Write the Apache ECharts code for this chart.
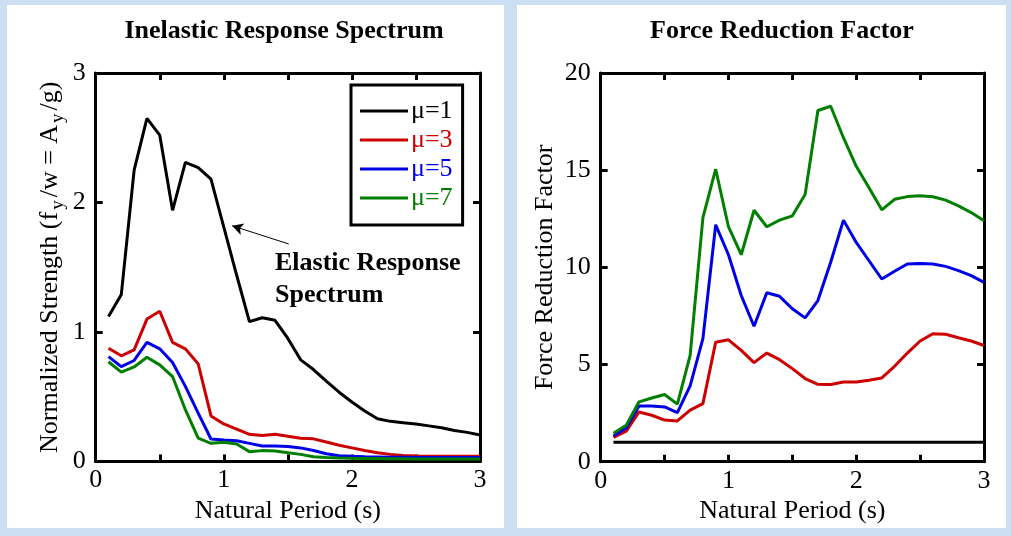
<!DOCTYPE html>
<html>
<head>
<meta charset="utf-8">
<script src="https://cdn.jsdelivr.net/npm/echarts@6/dist/echarts.min.js"></script>
<style>
html,body{margin:0;padding:0;background:#cbdef2;}
#chart{width:1011px;height:536px;}
</style>
</head>
<body>
<div id="chart"></div>
<script>
// ---------------- data ----------------
const periods = [0.1,0.2,0.3,0.4,0.5,0.6,0.7,0.8,0.9,1.0,1.1,1.2,1.3,1.4,1.5,1.6,1.7,1.8,1.9,2.0,2.1,2.2,2.3,2.4,2.5,2.6,2.7,2.8,2.9,3.0];
const seriesNames = ['μ=1','μ=3','μ=5','μ=7'];

// Normalized strength fy/w = Ay/g
const strengthMu1 = [1.12,1.29,2.25,2.65,2.52,1.94,2.31,2.27,2.18,1.81,1.44,1.08,1.11,1.09,0.95,0.785,0.71,0.62,0.535,0.46,0.39,0.33,0.31,0.30,0.29,0.275,0.26,0.24,0.225,0.205];
const strengthMu3 = [0.875,0.816,0.862,1.10,1.16,0.92,0.87,0.754,0.352,0.29,0.25,0.21,0.20,0.21,0.195,0.18,0.175,0.15,0.125,0.105,0.085,0.068,0.055,0.047,0.043,0.04,0.04,0.04,0.04,0.04];
const strengthMu5 = [0.81,0.733,0.78,0.92,0.87,0.764,0.58,0.373,0.174,0.166,0.16,0.14,0.12,0.12,0.115,0.105,0.085,0.06,0.045,0.04,0.037,0.035,0.033,0.032,0.031,0.03,0.03,0.03,0.03,0.03];
const strengthMu7 = [0.77,0.69,0.73,0.805,0.746,0.656,0.40,0.18,0.14,0.148,0.135,0.076,0.084,0.081,0.068,0.055,0.037,0.03,0.027,0.025,0.024,0.023,0.022,0.021,0.02,0.02,0.02,0.02,0.02,0.02];

// Force reduction factor
const reductionMu1 = [1,1,1,1,1,1,1,1,1,1,1,1,1,1,1,1,1,1,1,1,1,1,1,1,1,1,1,1,1,1];
const reductionMu3 = [1.25,1.57,2.56,2.39,2.14,2.10,2.65,2.99,6.15,6.27,5.73,5.10,5.59,5.25,4.79,4.28,3.98,3.97,4.10,4.10,4.19,4.31,4.91,5.59,6.21,6.58,6.56,6.38,6.21,5.98];
const reductionMu5 = [1.32,1.74,2.87,2.87,2.82,2.53,3.90,6.33,12.19,10.65,8.55,6.97,8.69,8.51,7.87,7.40,8.29,10.26,12.43,11.28,10.34,9.40,9.80,10.17,10.2,10.17,10.05,9.83,9.57,9.23];
const reductionMu7 = [1.46,1.88,3.08,3.28,3.46,2.96,5.47,12.56,15.05,12.09,10.65,12.94,12.09,12.43,12.65,13.75,18.07,18.29,16.67,15.2,14.1,12.96,13.5,13.64,13.68,13.63,13.46,13.16,12.82,12.4];

const xTicks = [0,1,2,3];
const strengthTicks = [0,1,2,3];
const reductionTicks = [0,5,10,15,20];

// ---------------- styling ----------------
const colors = ['#000000','#cc0000','#0000e6','#007f00'];
const FONT = "'Liberation Serif','Times New Roman',serif";
const pair = arr => periods.map((p,i)=>[p, arr[i]]);

function mainX(gi){
  return {type:'value', gridIndex:gi, min:0, max:3, interval:0.5, position:'bottom',
    axisLine:{show:true,onZero:false,lineStyle:{color:'#000',width:3}},
    axisTick:{show:true,inside:true,length:7,lineStyle:{color:'#000',width:3}},
    splitLine:{show:false},
    axisLabel:{show:true,margin:6,color:'#000',fontFamily:FONT,fontSize:26,
      formatter:v=> xTicks.indexOf(v)>=0 ? String(v) : ''},
    name:'Natural Period (s)', nameLocation:'middle', nameGap:30,
    nameTextStyle:{color:'#000',fontFamily:FONT,fontSize:26}};
}
function mirrorX(gi){
  return {type:'value', gridIndex:gi, min:0, max:3, interval:0.5, position:'top',
    axisLine:{show:true,onZero:false,lineStyle:{color:'#000',width:3}},
    axisTick:{show:true,inside:true,length:7,lineStyle:{color:'#000',width:3}},
    splitLine:{show:false}, axisLabel:{show:false}};
}
function mainY(gi,max,interval,ticks,name,gap,rich){
  return {type:'value', gridIndex:gi, min:0, max:max, interval:interval, position:'left',
    axisLine:{show:true,onZero:false,lineStyle:{color:'#000',width:3}},
    axisTick:{show:true,inside:true,length:7,lineStyle:{color:'#000',width:3}},
    splitLine:{show:false},
    axisLabel:{show:true,margin:10,color:'#000',fontFamily:FONT,fontSize:26,
      formatter:v=> ticks.indexOf(v)>=0 ? String(v) : ''},
    name:name, nameLocation:'middle', nameGap:gap, nameRotate:90,
    nameTextStyle:{color:'#000',fontFamily:FONT,fontSize:26,lineHeight:26,rich:rich||{}}};
}
function mirrorY(gi,max,interval){
  return {type:'value', gridIndex:gi, min:0, max:max, interval:interval, position:'right',
    axisLine:{show:true,onZero:false,lineStyle:{color:'#000',width:3}},
    axisTick:{show:true,inside:true,length:7,lineStyle:{color:'#000',width:3}},
    splitLine:{show:false}, axisLabel:{show:false}};
}

const subRich = {
  s:{fontFamily:FONT,fontSize:19,lineHeight:19,padding:[17,3,0,2],color:'#000'},
  n:{fontFamily:FONT,fontSize:26,lineHeight:26,color:'#000'}
};

const leftSeries = [strengthMu1,strengthMu3,strengthMu5,strengthMu7].map((arr,i)=>({
  name:seriesNames[i], type:'line', xAxisIndex:0, yAxisIndex:0,
  data:pair(arr), showSymbol:false, symbol:'none',
  lineStyle:{color:colors[i],width:3}, itemStyle:{color:colors[i]},
  z:2+i, animation:false
}));
leftSeries[0].markLine = {
  silent:true, animation:false, symbol:['none','arrow'], symbolSize:[9,11],
  label:{show:false},
  lineStyle:{color:'#000',width:1,type:'solid'},
  data:[[{coord:[1.507,1.68]},{coord:[1.065,1.82]}]]
};

const rightSeries = [reductionMu1,reductionMu3,reductionMu5,reductionMu7].map((arr,i)=>({
  name:'R '+seriesNames[i], type:'line', xAxisIndex:2, yAxisIndex:2,
  data:pair(arr), showSymbol:false, symbol:'none',
  lineStyle:{color:colors[i],width:3}, itemStyle:{color:colors[i]},
  z:2+i, animation:false
}));

const option = {
  backgroundColor:'#cbdef2',
  animation:false,
  graphic:[
    {type:'rect', shape:{x:7,y:5,width:497,height:523}, style:{fill:'#ffffff'}, z:-10},
    {type:'rect', shape:{x:517,y:5,width:489,height:523}, style:{fill:'#ffffff'}, z:-10},
    {type:'text', x:284, y:31, style:{text:'Inelastic Response Spectrum', fill:'#000',
      font:"bold 26px "+FONT, textAlign:'center', textVerticalAlign:'middle', verticalAlign:'middle'}},
    {type:'text', x:782, y:31, style:{text:'Force Reduction Factor', fill:'#000',
      font:"bold 26px "+FONT, textAlign:'center', textVerticalAlign:'middle', verticalAlign:'middle'}},
    {type:'text', x:275, y:263, style:{text:'Elastic Response', fill:'#000',
      font:"bold 26px "+FONT, textAlign:'left', textVerticalAlign:'middle', verticalAlign:'middle'}},
    {type:'text', x:275, y:295, style:{text:'Spectrum', fill:'#000',
      font:"bold 26px "+FONT, textAlign:'left', textVerticalAlign:'middle', verticalAlign:'middle'}}
  ],
  legend:{
    orient:'vertical', left:351, top:85,
    backgroundColor:'#fff', borderColor:'#000', borderWidth:3,
    padding:[13,10,14,9], itemGap:3, itemWidth:48, itemHeight:3, icon:'rect',
    textStyle:{fontFamily:FONT,fontSize:26,lineHeight:26,padding:[0,0,0,-2]},
    selectedMode:false,
    data:seriesNames.map((n,i)=>({name:n, textStyle:{color:colors[i]}, itemStyle:{color:colors[i]}}))
  },
  grid:[
    {left:95.7, top:73, width:384.3, height:388.5},
    {left:600.7, top:73, width:383.3, height:388.7}
  ],
  xAxis:[mainX(0), mirrorX(0), mainX(1), mirrorX(1)],
  yAxis:[
    mainY(0,3,1,strengthTicks,'{n|Normalized Strength (f}{s|y}{n|/w = A}{s|y}{n|/g)}',33,subRich),
    mirrorY(0,3,1),
    mainY(1,20,5,reductionTicks,'Force Reduction Factor',43),
    mirrorY(1,20,5)
  ],
  series: leftSeries.concat(rightSeries)
};

const chart = echarts.init(document.getElementById('chart'), null, {renderer:'canvas'});
chart.setOption(option);
</script>
</body>
</html>
